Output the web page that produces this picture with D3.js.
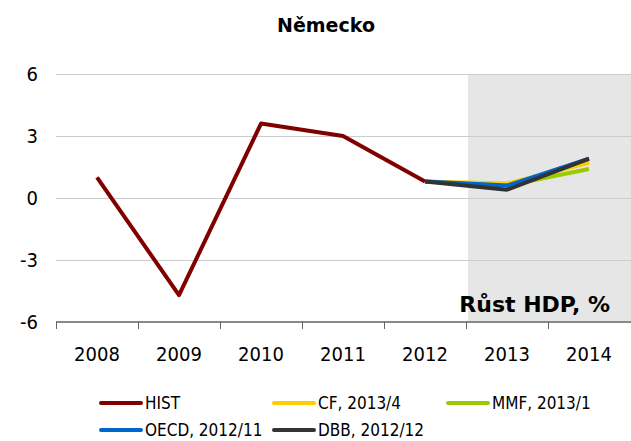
<!DOCTYPE html>
<html>
<head>
<meta charset="utf-8">
<script src="https://cdn.jsdelivr.net/npm/d3@7"></script>
<style>
  body { margin: 0; background: #fff; }
  svg { font-family: "DejaVu Sans Condensed", "DejaVu Sans", sans-serif; }
</style>
</head>
<body>
<svg width="631" height="441"></svg>
<script>
// data
var years = ['2008', '2009', '2010', '2011', '2012', '2013', '2014'];
var yTicks = [-6, -3, 0, 3, 6];
var forecastYears = ['2012', '2013', '2014'];

var hist = [1.0, -4.7, 3.6, 3.0, 0.8];
var cf = [0.8, 0.7, 1.7];
var mmf = [0.8, 0.6, 1.4];
var oecd = [0.8, 0.6, 1.9];
var dbb = [0.8, 0.4, 1.9];

var seriesNames = ['HIST', 'CF, 2013/4', 'MMF, 2013/1', 'OECD, 2012/11', 'DBB, 2012/12'];
var seriesColors = ['#800000', '#ffcc00', '#99cc00', '#0066cc', '#333333'];

var svg = d3.select('svg');

var scaleX = d3.scaleBand().domain(years).range([56, 630]);
var scaleY = d3.scaleLinear().domain([-6, 6]).range([322, 74]);

// forecast shading
svg.append('rect')
    .attr('x', scaleX('2013') + 2)
    .attr('y', scaleY(6))
    .attr('width', 631 - scaleX('2013'))
    .attr('height', scaleY(-6) - scaleY(6))
    .attr('fill', '#e6e6e6');

// gridlines
svg.append('g')
    .selectAll('line')
    .data(yTicks.filter(function(d){ return d > -6; }))
    .enter()
    .append('line')
    .attr('x1', 56)
    .attr('x2', 631)
    .attr('y1', function(d){ return scaleY(d) + 0.5; })
    .attr('y2', function(d){ return scaleY(d) + 0.5; })
    .attr('stroke', '#cccccc')
    .attr('stroke-width', 1);

// y labels
svg.append('g')
    .selectAll('text')
    .data(yTicks)
    .enter()
    .append('text')
    .attr('x', 38)
    .attr('y', function(d){ return scaleY(d) + 7; })
    .attr('text-anchor', 'end')
    .attr('font-size', 20)
    .attr('fill', '#000')
    .text(function(d){ return d; });

// x axis
var xAxis = svg.append('g')
    .attr('transform', 'translate(0,' + scaleY(-6) + ')');
xAxis.append('line')
    .attr('x1', 56).attr('x2', 631)
    .attr('y1', 0).attr('y2', 0)
    .attr('stroke', '#888').attr('stroke-width', 2);
xAxis.selectAll('.tick')
    .data(years)
    .enter()
    .append('line')
    .attr('x1', function(d){ return scaleX(d) + 0.5; })
    .attr('x2', function(d){ return scaleX(d) + 0.5; })
    .attr('y1', 0).attr('y2', 7)
    .attr('stroke', '#666').attr('stroke-width', 1);
xAxis.selectAll('text')
    .data(years)
    .enter()
    .append('text')
    .attr('x', function(d){ return scaleX(d) + scaleX.bandwidth() / 2; })
    .attr('y', 39)
    .attr('text-anchor', 'middle')
    .attr('font-size', 20)
    .attr('fill', '#000')
    .text(function(d){ return d; });

// lines
var line = d3.line()
    .x(function(d){ return scaleX(d[0]) + scaleX.bandwidth() / 2; })
    .y(function(d){ return scaleY(d[1]); });

var allSeries = [
    d3.zip(years.slice(0, hist.length), hist),
    d3.zip(forecastYears, cf),
    d3.zip(forecastYears, mmf),
    d3.zip(forecastYears, oecd),
    d3.zip(forecastYears, dbb)
];

svg.append('g')
    .selectAll('path')
    .data(allSeries)
    .enter()
    .append('path')
    .attr('d', line)
    .attr('fill', 'none')
    .attr('stroke', function(d, i){ return seriesColors[i]; })
    .attr('stroke-width', 4)
    .attr('stroke-linejoin', 'round');

// title
svg.append('text')
    .attr('x', 326)
    .attr('y', 32)
    .attr('text-anchor', 'middle')
    .attr('font-family', 'DejaVu Sans')
    .attr('font-size', 19)
    .attr('font-weight', 'bold')
    .text('Německo');

svg.append('text')
    .attr('x', 610)
    .attr('y', 312)
    .attr('text-anchor', 'end')
    .attr('font-family', 'DejaVu Sans')
    .attr('font-size', 22)
    .attr('font-weight', 'bold')
    .text('Růst HDP, %');

// legend
var legendPos = [[100, 403], [273, 403], [447, 403], [100, 430], [273, 430]];
var legend = svg.append('g')
    .selectAll('g')
    .data(seriesNames)
    .enter()
    .append('g')
    .attr('transform', function(d, i){ return 'translate(' + legendPos[i][0] + ',' + legendPos[i][1] + ')'; });
legend.append('line')
    .attr('x1', 1).attr('x2', 41)
    .attr('y1', 0).attr('y2', 0)
    .attr('stroke', function(d, i){ return seriesColors[i]; })
    .attr('stroke-width', 4)
    .attr('stroke-linecap', 'round');
legend.append('text')
    .attr('x', 45)
    .attr('y', 6)
    .attr('font-size', 17)
    .attr('fill', '#000')
    .text(function(d){ return d; });
</script>
</body>
</html>
